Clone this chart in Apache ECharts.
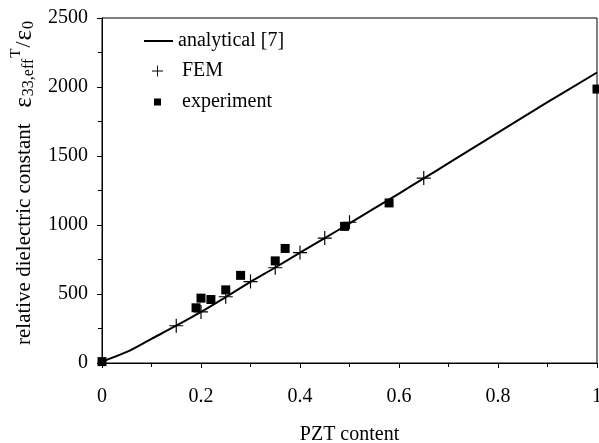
<!DOCTYPE html>
<html>
<head>
<meta charset="utf-8">
<script src="https://cdn.jsdelivr.net/npm/echarts@6/dist/echarts.min.js"></script>
<style>
  html, body { margin: 0; padding: 0; background: #fff; }
  #chart { width: 599px; height: 443px; }
</style>
</head>
<body>
<div id="chart"></div>
<script>
// analytical [7] curve
const analyticalX = [0, 0.05, 0.1, 0.15, 0.2, 0.25, 0.3, 0.35, 0.4, 0.45, 0.5, 0.6, 0.65, 0.7, 0.8, 0.9, 1.0];
const analyticalY = [10, 80, 175, 270, 370, 478, 588, 692, 800, 905, 1012, 1228, 1338, 1448, 1670, 1890, 2105];

// FEM points
const femX = [0.15, 0.2, 0.25, 0.3, 0.35, 0.4, 0.45, 0.5, 0.65];
const femY = [270, 370, 480, 590, 690, 800, 905, 1020, 1340];

// experiment points
const expX = [0, 0.19, 0.2, 0.22, 0.25, 0.28, 0.35, 0.37, 0.49, 0.58, 1.0];
const expY = [10, 400, 470, 460, 530, 635, 740, 830, 990, 1160, 1985];

const pairs = (xs, ys) => xs.map((x, i) => [x, ys[i]]);

const plusPath = 'path://M0,5.5h12v1h-12z M5.5,0h1v12h-1z';
const font = '"Liberation Serif", "Times New Roman", serif';
const txt = { fontFamily: font, fontSize: 20, color: '#000' };

const chart = echarts.init(document.getElementById('chart'));
chart.setOption({
  animation: false,
  textStyle: { fontFamily: font, color: '#000' },
  grid: {
    left: 102, right: 2, top: 18, bottom: 80,
    outerBoundsMode: 'none',
    show: true, borderColor: '#000', borderWidth: 1
  },
  legend: [
    {
      left: 139, top: 26,
      itemWidth: 29, itemHeight: 12, itemGap: 6,
      textStyle: txt,
      data: [{ name: 'analytical [7]', icon: 'path://M0,5h29v2h-29z' }]
    },
    {
      orient: 'vertical',
      left: 147, top: 56,
      itemWidth: 11, itemHeight: 11, itemGap: 11,
      textStyle: Object.assign({ padding: [0, 0, 0, 14] }, txt),
      data: [
        { name: 'FEM', icon: plusPath },
        { name: 'experiment', icon: 'path://M2,2h7v7h-7z M0,0 M11,11' }
      ]
    }
  ],
  xAxis: {
    type: 'value', min: 0, max: 1, interval: 0.2,
    name: 'PZT content', nameLocation: 'middle', nameGap: 62,
    nameTextStyle: txt,
    axisLine: { lineStyle: { color: '#000', width: 1 } },
    axisTick: { inside: false, length: 5, lineStyle: { color: '#000' } },
    minorTick: { show: true, splitNumber: 2, length: 4, lineStyle: { color: '#000' } },
    axisLabel: Object.assign({
      margin: 24,
      formatter: v => (v === 0 || v === 1) ? String(v) : v.toFixed(1)
    }, txt),
    splitLine: { show: false }
  },
  yAxis: {
    type: 'value', min: 0, max: 2500, interval: 500,
    name: 'relative dielectric constant   {eps|ε}{sub|33,eff}{sup|T}{sl|/}{eps|ε}{sub|0}',
    nameLocation: 'middle', nameGap: 62, nameRotate: 90,
    nameTextStyle: Object.assign({}, txt, {
      fontSize: 21,
      padding: [0, 0, 0, 16],
      rich: {
        eps: { fontFamily: font, fontSize: 25, color: '#000' },
        sl: { fontFamily: font, fontSize: 22, color: '#000', padding: [0, 1, 0, 1] },
        sub: { fontFamily: font, fontSize: 16, color: '#000', padding: [9, 1, 0, 1] },
        sup: { fontFamily: font, fontSize: 15, color: '#000', padding: [0, 0, 16, 0] }
      }
    }),
    axisLine: { show: true, lineStyle: { color: '#000', width: 1 } },
    axisTick: { show: true, inside: false, length: 5, lineStyle: { color: '#000' } },
    minorTick: { show: true, splitNumber: 2, length: 4, lineStyle: { color: '#000' } },
    axisLabel: Object.assign({ margin: 14, formatter: v => String(v) }, txt),
    splitLine: { show: false }
  },
  series: [
    {
      name: 'analytical [7]', type: 'line', smooth: 0.3,
      showSymbol: false, symbol: 'none',
      lineStyle: { color: '#000', width: 2 },
      itemStyle: { color: '#000' },
      data: pairs(analyticalX, analyticalY), z: 2
    },
    {
      name: 'FEM', type: 'scatter', symbol: plusPath, symbolSize: 14,
      itemStyle: { color: '#000', opacity: 1 },
      data: pairs(femX, femY), z: 3
    },
    {
      name: 'experiment', type: 'scatter', symbol: 'rect', symbolSize: 9,
      itemStyle: { color: '#000', opacity: 1 },
      data: pairs(expX, expY), z: 4
    }
  ]
});
</script>
</body>
</html>
